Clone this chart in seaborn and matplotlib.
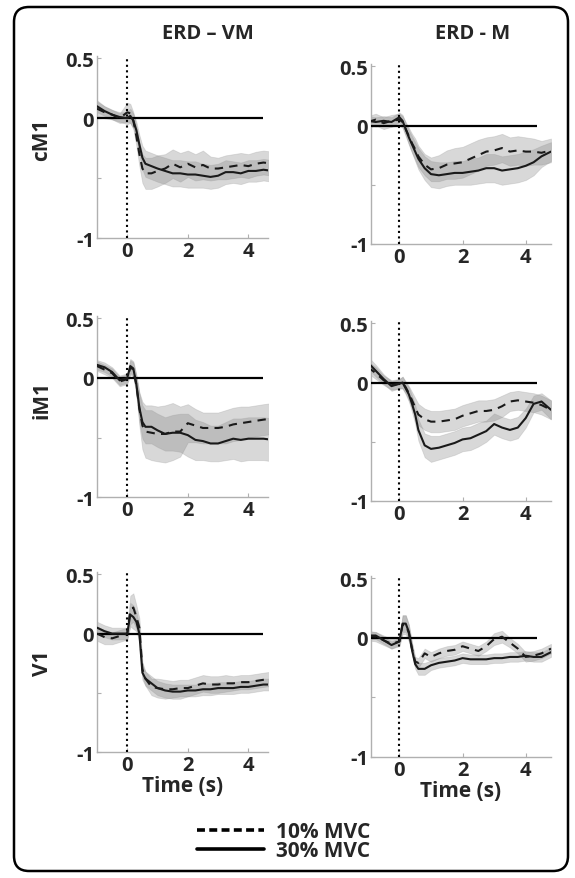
import matplotlib
matplotlib.use("Agg")
import matplotlib.pyplot as plt
from matplotlib.lines import Line2D
from matplotlib.patches import FancyBboxPatch
import numpy as np
import seaborn as sns

# time axis (s)
TIME = [-1.0, -0.75, -0.5, -0.25, 0.0, 0.1, 0.2, 0.3, 0.4, 0.5, 0.6, 0.8, 1.0, 1.25,
        1.5, 1.75, 2.0, 2.25, 2.5, 2.75, 3.0, 3.25, 3.5, 3.75, 4.0, 4.25, 4.5, 4.8]

# ===== cM1 - ERD VM =====
CM1_VM_10 = [0.08, 0.05, 0.03, 0.00, 0.05, 0.04, -0.02, -0.15, -0.30, -0.42, -0.46, -0.46, -0.44, -0.42,
             -0.38, -0.41, -0.38, -0.41, -0.39, -0.42, -0.42, -0.41, -0.40, -0.39, -0.40, -0.38, -0.37, -0.38]
CM1_VM_10_SEM = [0.06, 0.05, 0.04, 0.04, 0.08, 0.08, 0.07, 0.08, 0.10, 0.12, 0.13, 0.13, 0.13, 0.12,
                 0.12, 0.12, 0.11, 0.11, 0.12, 0.10, 0.09, 0.10, 0.10, 0.10, 0.10, 0.10, 0.10, 0.10]
CM1_VM_30 = [0.10, 0.06, 0.03, 0.01, 0.00, 0.02, -0.02, -0.10, -0.22, -0.33, -0.38, -0.40, -0.42, -0.44,
             -0.46, -0.46, -0.47, -0.47, -0.48, -0.49, -0.48, -0.45, -0.45, -0.46, -0.44, -0.44, -0.43, -0.44]
CM1_VM_30_SEM = [0.05, 0.04, 0.04, 0.04, 0.05, 0.06, 0.06, 0.07, 0.08, 0.10, 0.11, 0.11, 0.11, 0.11,
                 0.11, 0.11, 0.11, 0.11, 0.10, 0.10, 0.10, 0.10, 0.09, 0.09, 0.09, 0.09, 0.09, 0.09]

# ===== cM1 - ERD M =====
CM1_M_10 = [0.03, 0.05, 0.02, 0.04, 0.05, 0.03, -0.03, -0.09, -0.15, -0.20, -0.26, -0.33, -0.37, -0.36,
            -0.33, -0.32, -0.31, -0.28, -0.25, -0.22, -0.21, -0.19, -0.22, -0.21, -0.22, -0.22, -0.23, -0.21]
CM1_M_10_SEM = [0.05, 0.05, 0.05, 0.05, 0.05, 0.05, 0.06, 0.07, 0.08, 0.09, 0.09, 0.09, 0.10, 0.11,
                0.12, 0.13, 0.13, 0.13, 0.13, 0.12, 0.12, 0.12, 0.12, 0.12, 0.12, 0.11, 0.10, 0.10]
CM1_M_30 = [0.04, 0.03, 0.04, 0.03, 0.07, 0.04, -0.03, -0.10, -0.16, -0.22, -0.28, -0.36, -0.41, -0.42,
            -0.41, -0.40, -0.40, -0.39, -0.38, -0.36, -0.36, -0.38, -0.37, -0.36, -0.34, -0.31, -0.26, -0.22]
CM1_M_30_SEM = [0.04, 0.04, 0.04, 0.04, 0.04, 0.05, 0.05, 0.06, 0.07, 0.08, 0.09, 0.10, 0.11, 0.11,
                0.10, 0.10, 0.10, 0.11, 0.11, 0.12, 0.12, 0.12, 0.12, 0.12, 0.12, 0.11, 0.09, 0.08]

# ===== iM1 - ERD VM =====
IM1_VM_10 = [0.10, 0.07, 0.04, -0.03, -0.01, 0.09, 0.07, -0.06, -0.26, -0.40, -0.45, -0.46, -0.47, -0.47,
             -0.45, -0.45, -0.38, -0.40, -0.42, -0.42, -0.42, -0.41, -0.39, -0.38, -0.37, -0.36, -0.35, -0.34]
IM1_VM_10_SEM = [0.04, 0.04, 0.04, 0.04, 0.04, 0.06, 0.06, 0.08, 0.14, 0.20, 0.22, 0.23, 0.23, 0.24,
                 0.24, 0.21, 0.16, 0.14, 0.13, 0.13, 0.13, 0.14, 0.14, 0.14, 0.13, 0.13, 0.13, 0.13]
IM1_VM_30 = [0.11, 0.09, 0.05, -0.02, 0.00, 0.10, 0.08, -0.05, -0.25, -0.37, -0.41, -0.41, -0.44, -0.47,
             -0.46, -0.46, -0.48, -0.52, -0.53, -0.55, -0.55, -0.53, -0.51, -0.52, -0.51, -0.51, -0.51, -0.52]
IM1_VM_30_SEM = [0.04, 0.04, 0.04, 0.04, 0.04, 0.06, 0.06, 0.08, 0.12, 0.14, 0.14, 0.14, 0.14, 0.14,
                 0.15, 0.16, 0.18, 0.17, 0.16, 0.15, 0.15, 0.16, 0.17, 0.18, 0.18, 0.18, 0.18, 0.18]

# ===== iM1 - ERD M =====
IM1_M_10 = [0.13, 0.08, 0.02, -0.02, -0.01, 0.00, -0.04, -0.09, -0.15, -0.21, -0.27, -0.31, -0.33, -0.33,
            -0.32, -0.31, -0.28, -0.26, -0.24, -0.24, -0.23, -0.20, -0.16, -0.15, -0.16, -0.17, -0.19, -0.23]
IM1_M_10_SEM = [0.05, 0.05, 0.04, 0.04, 0.04, 0.05, 0.05, 0.06, 0.07, 0.08, 0.09, 0.09, 0.09, 0.09,
                0.09, 0.09, 0.09, 0.09, 0.09, 0.09, 0.09, 0.09, 0.08, 0.08, 0.08, 0.08, 0.08, 0.08]
IM1_M_30 = [0.17, 0.10, 0.03, -0.03, -0.01, 0.00, -0.05, -0.10, -0.18, -0.27, -0.40, -0.53, -0.56, -0.55,
            -0.53, -0.51, -0.48, -0.47, -0.44, -0.41, -0.35, -0.38, -0.40, -0.38, -0.30, -0.18, -0.16, -0.23]
IM1_M_30_SEM = [0.05, 0.05, 0.04, 0.04, 0.04, 0.05, 0.05, 0.06, 0.07, 0.08, 0.09, 0.10, 0.11, 0.10,
                0.10, 0.10, 0.10, 0.10, 0.10, 0.09, 0.09, 0.09, 0.09, 0.09, 0.08, 0.07, 0.07, 0.08]

# ===== V1 - ERD VM =====
V1_VM_10 = [0.00, -0.03, -0.04, -0.02, 0.00, 0.20, 0.22, 0.14, 0.05, -0.30, -0.38, -0.45, -0.46, -0.47,
            -0.47, -0.46, -0.46, -0.44, -0.42, -0.43, -0.43, -0.42, -0.42, -0.41, -0.41, -0.40, -0.39, -0.38]
V1_VM_10_SEM = [0.06, 0.06, 0.05, 0.05, 0.05, 0.12, 0.12, 0.10, 0.08, 0.06, 0.06, 0.07, 0.08, 0.08,
                0.07, 0.07, 0.07, 0.07, 0.07, 0.07, 0.07, 0.07, 0.06, 0.06, 0.06, 0.06, 0.06, 0.06]
V1_VM_30 = [0.05, 0.02, 0.00, 0.00, 0.00, 0.16, 0.14, 0.10, 0.00, -0.33, -0.38, -0.42, -0.46, -0.48,
            -0.49, -0.49, -0.48, -0.48, -0.47, -0.47, -0.46, -0.46, -0.46, -0.45, -0.45, -0.44, -0.43, -0.43]
V1_VM_30_SEM = [0.05, 0.05, 0.05, 0.05, 0.05, 0.10, 0.10, 0.08, 0.07, 0.06, 0.06, 0.06, 0.06, 0.06,
                0.06, 0.06, 0.05, 0.05, 0.05, 0.05, 0.05, 0.05, 0.05, 0.05, 0.05, 0.05, 0.05, 0.05]

# ===== V1 - ERD M =====
V1_M_10 = [0.02, 0.01, -0.02, -0.05, -0.03, 0.11, 0.11, 0.04, -0.09, -0.20, -0.21, -0.13, -0.16, -0.13,
           -0.11, -0.10, -0.07, -0.09, -0.11, -0.07, -0.01, 0.01, -0.04, -0.09, -0.16, -0.15, -0.13, -0.09]
V1_M_10_SEM = [0.04, 0.04, 0.04, 0.04, 0.04, 0.08, 0.08, 0.07, 0.05, 0.04, 0.04, 0.04, 0.04, 0.04,
               0.04, 0.04, 0.04, 0.04, 0.04, 0.04, 0.05, 0.05, 0.04, 0.04, 0.04, 0.04, 0.04, 0.04]
V1_M_30 = [0.02, 0.02, -0.02, -0.06, -0.03, 0.12, 0.12, 0.05, -0.10, -0.22, -0.26, -0.26, -0.23, -0.21,
           -0.20, -0.19, -0.17, -0.18, -0.18, -0.18, -0.17, -0.17, -0.16, -0.16, -0.15, -0.16, -0.16, -0.12]
V1_M_30_SEM = [0.03, 0.03, 0.03, 0.03, 0.03, 0.07, 0.07, 0.06, 0.05, 0.04, 0.05, 0.05, 0.04, 0.04,
               0.04, 0.04, 0.04, 0.04, 0.04, 0.04, 0.04, 0.04, 0.04, 0.04, 0.04, 0.04, 0.04, 0.04]

ROWS = ["cM1", "iM1", "V1"]
COLS = ["ERD \u2013 VM", "ERD - M"]
LEGEND = ["10% MVC", "30% MVC"]

sns.set_style("white")
plt.rcParams["font.family"] = ["Open Sans", "DejaVu Sans"]
plt.rcParams["font.weight"] = "bold"

fig = plt.figure(figsize=(5.75, 8.79), dpi=100)

# axes rectangles [left, bottom, width, height]
pos = {
    (0, 0): [0.1687, 0.7281, 0.2974, 0.2071], (0, 1): [0.6452, 0.7213, 0.3130, 0.2048],
    (1, 0): [0.1687, 0.4334, 0.2974, 0.2059], (1, 1): [0.6452, 0.4289, 0.3130, 0.2048],
    (2, 0): [0.1687, 0.1433, 0.2974, 0.2048], (2, 1): [0.6452, 0.1377, 0.3130, 0.2059],
}
xlims = {0: (-1.0, 4.65), 1: (-0.9, 4.8)}
zero_ext = {0: (-1.0, 4.5), 1: (-0.9, 4.35)}

data = {
    (0, 0): (CM1_VM_10, CM1_VM_10_SEM, CM1_VM_30, CM1_VM_30_SEM),
    (0, 1): (CM1_M_10, CM1_M_10_SEM, CM1_M_30, CM1_M_30_SEM),
    (1, 0): (IM1_VM_10, IM1_VM_10_SEM, IM1_VM_30, IM1_VM_30_SEM),
    (1, 1): (IM1_M_10, IM1_M_10_SEM, IM1_M_30, IM1_M_30_SEM),
    (2, 0): (V1_VM_10, V1_VM_10_SEM, V1_VM_30, V1_VM_30_SEM),
    (2, 1): (V1_M_10, V1_M_10_SEM, V1_M_30, V1_M_30_SEM),
}

t = np.array(TIME)
for (r, c), (m10, s10, m30, s30) in data.items():
    ax = fig.add_axes(pos[(r, c)])
    m10, s10, m30, s30 = map(np.array, (m10, s10, m30, s30))
    # bands
    for m, s in ((m10, s10), (m30, s30)):
        ax.fill_between(t, m - s, m + s, facecolor="#808080", alpha=0.3,
                        edgecolor="#9a9a9a", linewidth=0.6, zorder=1)
    ax.hlines(0, *zero_ext[c], color="black", lw=1.6, zorder=3)
    ax.axvline(0, color="black", ls=":", lw=1.5, zorder=3)
    sns.lineplot(x=t, y=m30, ax=ax, color="#1a1a1a", lw=1.5, zorder=4)
    sns.lineplot(x=t, y=m10, ax=ax, color="#1a1a1a", lw=1.5, zorder=4,
                 linestyle=(0, (4, 3)))
    ax.set_xlim(*xlims[c])
    ax.set_ylim(-1, 0.52)
    ax.set_xticks([0, 2, 4])
    ax.set_yticks([-1, -0.5, 0, 0.5])
    ax.set_yticklabels(["-1", "", "0", "0.5"])
    ax.tick_params(direction="in", length=3, width=0.8, color="#b0b0b0",
                   labelsize=14.5, pad=2, left=True, bottom=True)
    for side in ("top", "right"):
        ax.spines[side].set_visible(False)
    for side in ("left", "bottom"):
        ax.spines[side].set_color("#b0b0b0")
        ax.spines[side].set_linewidth(1.0)
    if r == 2:
        ax.set_xlabel("Time (s)", fontsize=15, fontweight="bold", labelpad=0)

# column titles and row labels
fig.text(208 / 575, 1 - 34 / 879, COLS[0], ha="center", va="center", fontsize=14.5, fontweight="bold")
fig.text(473 / 575, 1 - 34 / 879, COLS[1], ha="center", va="center", fontsize=14.5, fontweight="bold")
for name, yy in zip(ROWS, (140, 400, 663)):
    fig.text(42 / 575, 1 - yy / 879, name, rotation=90, ha="center", va="center",
             fontsize=15, fontweight="bold")

# legend
handles = [Line2D([], [], color="black", lw=2.6, linestyle=(0, (2.2, 1.2))),
           Line2D([], [], color="black", lw=2.6)]
fig.legend(handles, LEGEND, loc="center", bbox_to_anchor=(284 / 575, 1 - 842 / 879),
           frameon=False, handlelength=3.2, handletextpad=0.6,
           labelspacing=-0.1, prop={"weight": "bold", "size": 15})

# rounded border
box = FancyBboxPatch((0.14, 0.07), 5.54, 8.64, boxstyle="round,pad=0,rounding_size=0.15",
                     transform=fig.dpi_scale_trans, fill=False, edgecolor="black", lw=1.8)
fig.patches.append(box)

fig.savefig("out.png", dpi=100)
